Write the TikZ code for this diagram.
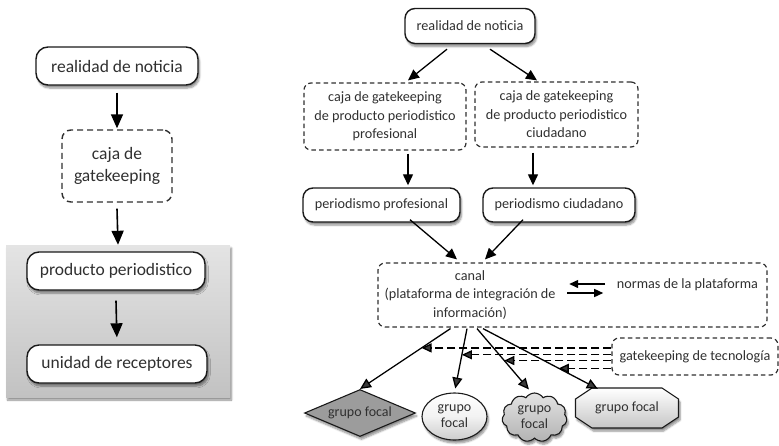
\documentclass[tikz,border=0pt]{standalone}
\usepackage{fontspec}
\setmainfont{Carlito}
\usetikzlibrary{arrows.meta,calc,shapes.geometric,shapes.symbols,shadows.blur}

\definecolor{ink}{HTML}{303030}
\definecolor{edge}{HTML}{1A1A1A}
\definecolor{paneltop}{HTML}{E4E4E4}
\definecolor{panelbot}{HTML}{C2C2C2}
\definecolor{diafill}{HTML}{9C9C9C}

\begin{document}
\begin{tikzpicture}[x=1pt,y=-1pt,
  bigtxt/.style={font=\fontsize{17.5}{22}\selectfont},
  smalltxt/.style={font=\fontsize{14.2}{18.5}\selectfont},
  softshadow/.style={blur shadow={shadow blur steps=6, shadow xshift=1.5pt, shadow yshift=-3pt, shadow opacity=45}},
  solidbox/.style={draw=edge, line width=1.4pt, rounded corners=12pt, fill=white,
    text=ink, inner sep=0pt, softshadow},
  dashbox/.style={draw=ink, line width=1.2pt, dash pattern=on 4.5pt off 3.2pt,
    rounded corners=7pt, text=ink, inner sep=0pt},
  bigarr/.style={-{Triangle[length=14pt,width=12pt]}, line width=1.6pt},
  arr/.style={-{Triangle[length=11pt,width=10pt]}, line width=1.3pt},
  smallarr/.style={-{Triangle[length=9pt,width=8pt]}, line width=1.4pt},
  darr/.style={-{Triangle[length=10pt,width=9pt]}, line width=1.3pt, dash pattern=on 8pt off 4pt},
  focal/.style={draw=edge, line width=1.1pt, text=ink, inner sep=0pt, align=center,
    font=\fontsize{14}{16}\selectfont, softshadow},
]
\useasboundingbox (0,0) rectangle (779,445);

% ---------- simple model ----------
\node[fill=paneltop, top color=paneltop, bottom color=panelbot, minimum width=224,
      minimum height=152, inner sep=0pt, softshadow] (panel) at (118,321) {};

\node[solidbox, bigtxt, minimum width=162, minimum height=38] (lnews) at (117,66) {realidad de noticia};
\node[dashbox, bigtxt, line width=1.4pt, dash pattern=on 6pt off 4pt, rounded corners=9pt,
      minimum width=110, minimum height=72, align=center] (lgate) at (117,166) {caja de\\gatekeeping};
\node[solidbox, bigtxt, minimum width=178, minimum height=38] (lprod) at (116,271) {producto periodistico};
\node[solidbox, bigtxt, minimum width=180, minimum height=38] (lrec) at (117,364) {unidad de receptores};

\draw[bigarr] ([yshift=-7pt]lnews.south) -- ([yshift=1pt]lgate.north);
\draw[bigarr] ([yshift=-6pt]lgate.south) -- (panel.north);
\draw[bigarr, shorten >=7pt] ([yshift=-10pt]lprod.south) -- (lrec.north);

% ---------- extended model ----------
\node[solidbox, smalltxt, rounded corners=10pt, minimum width=130, minimum height=35] (rnews) at (470,26) {realidad de noticia};

\node[dashbox, smalltxt, minimum width=162, minimum height=67, align=center] (cajaP) at (385,116.5)
  {caja de gatekeeping\\de producto periodistico\\profesional};
\node[dashbox, smalltxt, minimum width=163, minimum height=65, align=center] (cajaC) at (556.5,114.5)
  {caja de gatekeeping\\de producto periodistico\\ciudadano};

\node[solidbox, smalltxt, rounded corners=10pt, minimum width=157, minimum height=34] (perP) at (381.5,205) {periodismo profesional};
\node[solidbox, smalltxt, rounded corners=10pt, minimum width=152, minimum height=34] (perC) at (559,205) {periodismo ciudadano};

\draw[arr] ($(rnews.south)+(-23,5)$) -- ($(cajaP.north)+(23,-2)$);
\draw[arr] ($(rnews.south)+(20,5)$) -- ($(cajaC.north)+(-19.5,-1)$);

\coordinate (colP) at ($(cajaP.south)+(23,0)$);
\coordinate (colC) at ($(cajaC.south)+(-23.5,0)$);
\draw[arr] ([yshift=-3pt]colP) -- ([yshift=2pt]colP |- perP.north);
\draw[arr] ([yshift=-5pt]colC) -- ([yshift=2pt]colC |- perC.north);

\node[dashbox, minimum width=389, minimum height=64] (canal) at (572.5,295) {};
\node[smalltxt, text=ink, align=center, inner sep=0pt] (canaltxt) at (470,295)
  {canal\\(plataforma de integración de\\información)};
\node[smalltxt, text=ink, inner sep=0pt] (normas) at (687.5,285) {normas de la plataforma};

\draw[arr] ($(perP.south)+(28.5,-3)$) -- ($(canal.north)+(-115.5,-3)$);
\draw[arr] ($(perC.south)+(-36,-3)$) -- ($(canal.north)+(-87.5,-3)$);

\draw[smallarr] ($(normas.west)+(-11.5,-1)$) -- ($(normas.west)+(-47.5,-1)$);
\draw[smallarr] ($(normas.west)+(-49.5,8)$) -- ($(normas.west)+(-13.5,8)$);

\node[dashbox, smalltxt, minimum width=166, minimum height=37] (gk) at (695,356.5) {gatekeeping de tecnología};

% receiving groups
\node[focal, diamond, aspect=2.36, fill=diafill, minimum width=111, minimum height=47] (gf1) at (360,413) {grupo focal};
\node[focal, ellipse, top color=white, bottom color=gray!40, middle color=gray!10,
      minimum width=65, minimum height=47] (gf2) at (454.5,416.5) {grupo\\focal};
\node[focal, cloud, cloud puffs=11, cloud puff arc=115, aspect=1.3,
      top color=gray!22, bottom color=gray!60, minimum width=65, minimum height=49] (gf3) at (534.5,417.5) {grupo\\focal};
\coordinate (oc) at (627,408);
\path[draw=edge, line width=1.1pt, top color=white, bottom color=gray!45, softshadow]
  ($(oc)+(-35,-20)$) -- ($(oc)+(35,-20)$) -- ($(oc)+(51.5,-9)$) -- ($(oc)+(51.5,9)$)
  -- ($(oc)+(35,20)$) -- ($(oc)+(-35,20)$) -- ($(oc)+(-51.5,9)$) -- ($(oc)+(-51.5,-9)$) -- cycle;
\node[text=ink, inner sep=0pt, font=\fontsize{14}{16}\selectfont,
      minimum width=103, minimum height=40] (gf4) at (oc) {grupo focal};

\draw[arr] ($(canal.south)+(-122,1)$) -- (gf1.north) coordinate[pos=0.32] (h1);
\draw[arr, shorten >=4pt] ($(canal.south)+(-105.5,1)$) -- (gf2.north) coordinate[pos=0.41] (h2);
\draw[arr, shorten >=4pt] ($(canal.south)+(-95.5,1)$) -- ($(gf3.north)+(-3,0)$) coordinate[pos=0.5] (h3);
\draw[arr] ($(canal.south)+(-89.5,1)$) -- ($(gf4.north west)+(22.5,1)$) coordinate[pos=0.66] (h4);

% technology gatekeeping acting on each channel
\draw[darr] (h1 -| gk.west) -- (h1);
\draw[darr] (h2 -| gk.west) -- (h2);
\draw[darr] (h3 -| gk.west) -- (h3);
\draw[darr] (h4 -| gk.west) -- (h4);
\end{tikzpicture}
\end{document}
